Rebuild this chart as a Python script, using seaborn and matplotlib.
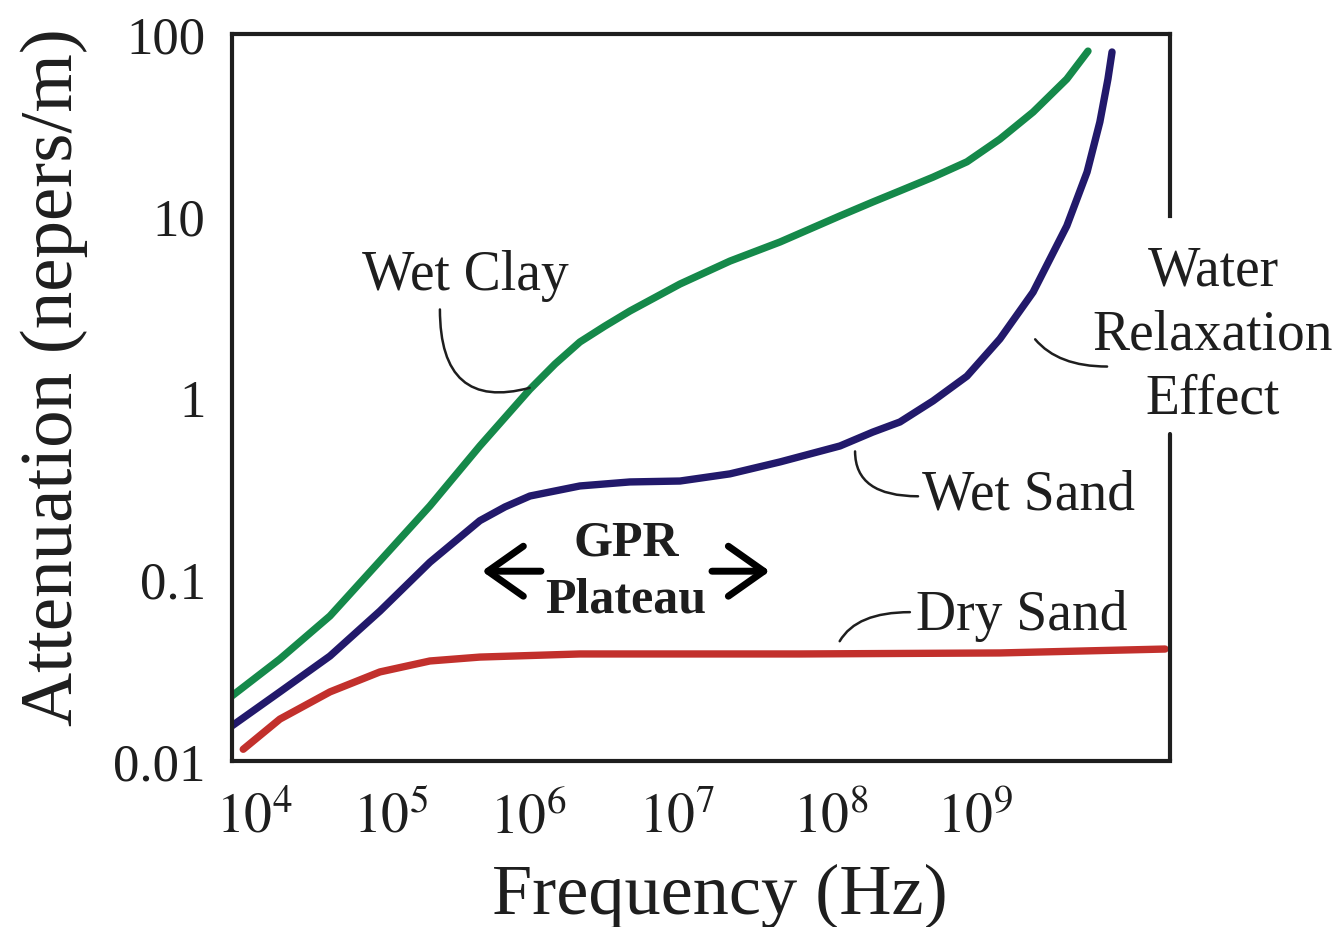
import pandas as pd
import matplotlib
matplotlib.use('Agg')
import matplotlib.pyplot as plt
import seaborn as sns
from matplotlib.ticker import NullLocator

# curves (Hz, nepers/m)
clay_freq = [8.88e3, 1.81e4, 3.81e4, 8.0e4, 1.68e5, 3.53e5, 7.43e5, 1.08e6,
             1.56e6, 2.26e6, 3.28e6, 6.9e6, 1.45e7, 3.05e7, 7.43e7, 1.21e8,
             1.81e8, 2.96e8, 4.9e8, 8.0e8, 1.31e9, 2.16e9, 2.96e9]
clay_att = [0.0228, 0.0364, 0.0628, 0.126, 0.253, 0.541, 1.11, 1.53,
            2.02, 2.47, 2.99, 4.21, 5.63, 7.17, 9.98, 11.9,
            13.7, 16.3, 19.8, 26.4, 37.2, 56.5, 80.5]

wet_sand_freq = [8.88e3, 1.81e4, 3.81e4, 8.0e4, 1.68e5, 3.53e5, 5.13e5, 7.43e5,
                 1.56e6, 3.28e6, 6.9e6, 1.45e7, 3.05e7, 7.43e7, 1.21e8, 1.81e8,
                 2.96e8, 4.9e8, 8.0e8, 1.31e9, 2.16e9, 2.92e9, 3.53e9, 3.98e9,
                 4.23e9]
wet_sand_att = [0.0156, 0.024, 0.0378, 0.0668, 0.124, 0.21, 0.25, 0.287,
                0.326, 0.343, 0.347, 0.38, 0.442, 0.541, 0.645, 0.733,
                0.957, 1.31, 2.1, 3.8, 8.79, 17.4, 32.8, 56.5,
                79.6]

dry_sand_freq = [1.05e4, 1.81e4, 3.81e4, 8.0e4, 1.68e5, 3.53e5, 1.56e6,
                 4.1e7, 8.0e8, 9.3e9]
dry_sand_att = [0.0116, 0.017, 0.024, 0.0309, 0.0355, 0.0373, 0.0388,
                0.0388, 0.0393, 0.0413]

materials = ['Wet Clay', 'Wet Sand', 'Dry Sand']
colors = {'Wet Clay': '#15894a', 'Wet Sand': '#22196b', 'Dry Sand': '#c2302c'}

y_ticks = [0.01, 0.1, 1, 10, 100]
y_tick_labels = ['0.01', '0.1', '1', '10', '100']
x_ticks = [1e5, 1e6, 1e7, 1e8, 1e9]
x_tick_labels = [r'$10^{4}$', r'$10^{5}$', r'$10^{6}$', r'$10^{7}$', r'$10^{8}$', r'$10^{9}$']
# the labels in the reference sit a little left of their tick marks
x_label_pos = [1.23e4, 9.4e4, 7.2e5, 6.6e6, 6.5e7, 5.5e8]

df = pd.concat([
    pd.DataFrame({'Frequency': clay_freq, 'Attenuation': clay_att, 'Material': 'Wet Clay'}),
    pd.DataFrame({'Frequency': wet_sand_freq, 'Attenuation': wet_sand_att, 'Material': 'Wet Sand'}),
    pd.DataFrame({'Frequency': dry_sand_freq, 'Attenuation': dry_sand_att, 'Material': 'Dry Sand'}),
], ignore_index=True)

sns.set_theme(style='white')
plt.rcParams['font.family'] = ['Liberation Serif', 'DejaVu Serif']
plt.rcParams['mathtext.fontset'] = 'stix'

ink = '#1e1e1e'
fig = plt.figure(figsize=(13.4, 9.28), dpi=100)
ax = fig.add_axes([0.1731, 0.1789, 0.700, 0.7834])

sns.lineplot(data=df, x='Frequency', y='Attenuation', hue='Material',
             hue_order=materials, palette=colors, estimator=None,
             linewidth=5.3, legend=False, ax=ax)

ax.set_xscale('log')
ax.set_yscale('log')
ax.set_xlim(8.88e3, 1e10)
ax.set_ylim(0.01, 100)

# tick marks (major, no labels) and labels (minor, no marks)
ax.set_xticks(x_ticks)
ax.set_xticklabels([])
ax.set_xticks(x_label_pos, minor=True)
ax.set_xticklabels(x_tick_labels, minor=True)
ax.set_yticks(y_ticks)
ax.set_yticklabels(y_tick_labels)
ax.yaxis.set_minor_locator(NullLocator())
ax.tick_params(axis='both', which='major', direction='in', length=19, width=2.2,
               color=ink, labelcolor=ink, labelsize=38)
ax.tick_params(axis='y', pad=19)
ax.tick_params(axis='x', which='minor', length=0, pad=22, labelsize=40,
               labelcolor=ink)

for side in ['left', 'right', 'top', 'bottom']:
    ax.spines[side].set_color(ink)
    ax.spines[side].set_linewidth(3)
# right frame is broken where the "Water Relaxation Effect" label sits
ax.spines['right'].set_bounds(10, 100)
ax.axvline(1e10, ymin=0, ymax=0.45, color=ink, lw=3, clip_on=False)

ax.set_xlabel('Frequency (Hz)', fontsize=52, color=ink)
ax.xaxis.set_label_coords(0.52, -0.14)
ax.set_ylabel('Attenuation (nepers/m)', fontsize=54, color=ink)
ax.yaxis.set_label_coords(-0.153, 0.53)

lead = dict(arrowstyle='-', color=ink, lw=1.8, shrinkA=0, shrinkB=0)

ax.text(2.83e5, 4.74, 'Wet Clay', fontsize=40, color=ink, ha='center', va='center')
ax.annotate('', xy=(7.4e5, 1.13), xytext=(1.95e5, 3.05),
            arrowprops=dict(lead, connectionstyle='angle3,angleA=90,angleB=15'))

ax.text(2.5e8, 0.293, 'Wet Sand', fontsize=40, color=ink, ha='left', va='center')
ax.annotate('', xy=(2.37e8, 0.286), xytext=(9.3e7, 0.505),
            arrowprops=dict(lead, connectionstyle='angle3,angleA=90,angleB=0'))

ax.text(2.3e8, 0.0637, 'Dry Sand', fontsize=40, color=ink, ha='left', va='center')
ax.annotate('', xy=(2.1e8, 0.0659), xytext=(7.4e7, 0.0456),
            arrowprops=dict(lead, connectionstyle='angle3,angleA=60,angleB=0'))

ax.text(1.046, 0.587, 'Water\nRelaxation\nEffect', transform=ax.transAxes,
        fontsize=40, color=ink, ha='center', va='center', linespacing=1.3,
        clip_on=False)
ax.annotate('', xy=(3.93e9, 1.48), xytext=(1.35e9, 2.09),
            arrowprops=dict(lead, connectionstyle='angle3,angleA=-50,angleB=0'))

ax.text(3.09e6, 0.1107, 'GPR\nPlateau', fontsize=36, fontweight='bold', color=ink,
        ha='center', va='center', linespacing=1.3)
arrow = dict(arrowstyle='->,head_length=0.85,head_width=0.6', color='black',
             lw=5, mutation_scale=30, shrinkA=0, shrinkB=0)
ax.annotate('', xy=(3.64e5, 0.1107), xytext=(8.75e5, 0.1107), arrowprops=arrow)
ax.annotate('', xy=(2.62e7, 0.1107), xytext=(1.11e7, 0.1107), arrowprops=arrow)

fig.savefig('out.png', dpi=100, facecolor='white')
